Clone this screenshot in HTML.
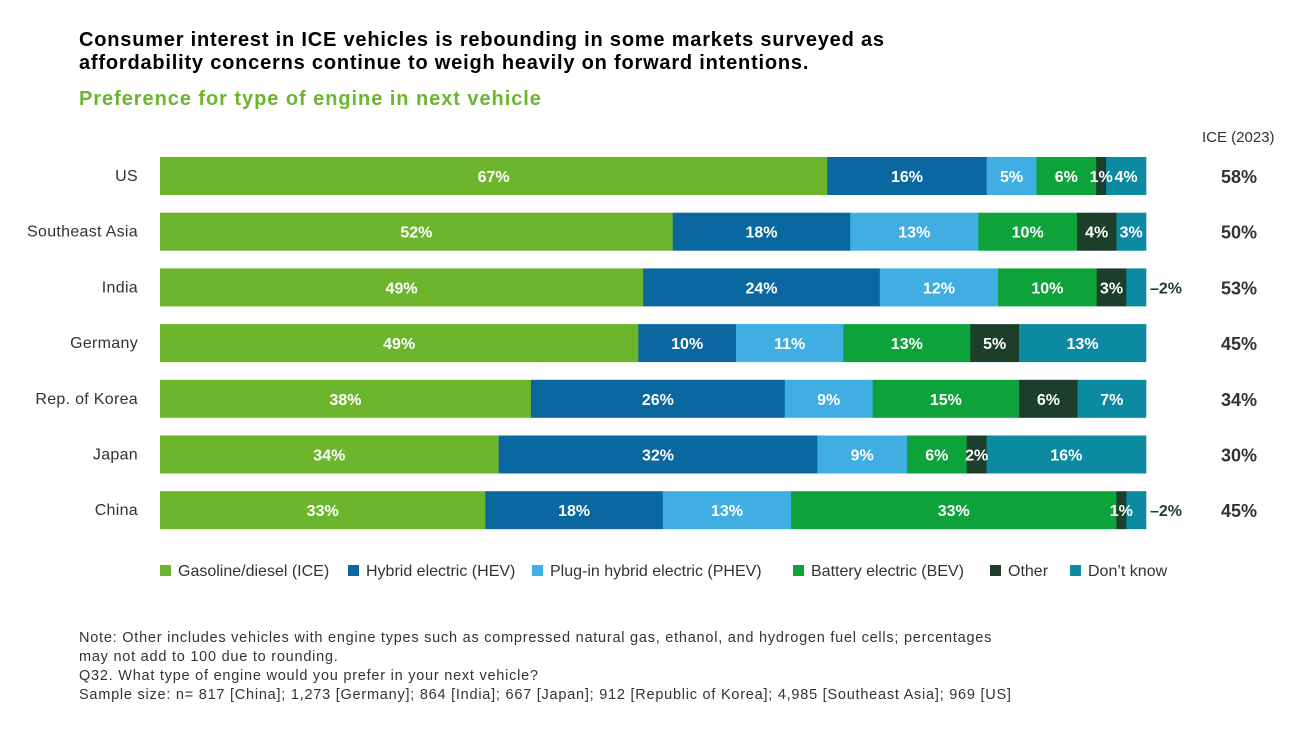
<!DOCTYPE html>
<html><head><meta charset="utf-8"><style>
body{margin:0;background:#fff;font-family:"Liberation Sans",sans-serif;}
#wrap{position:relative;width:1311px;height:739px;overflow:hidden;}
.t{position:absolute;white-space:nowrap;}
</style></head><body>
<div id="wrap">
<div class="t" style="left:79px;top:29px;font-size:20px;letter-spacing:0.8px;font-weight:bold;color:#000;line-height:23px;">Consumer interest in ICE vehicles is rebounding in some markets surveyed as<br>affordability concerns continue to weigh heavily on forward intentions.</div>
<div class="t" style="left:79px;top:88px;font-size:20px;letter-spacing:0.95px;font-weight:bold;color:#6cb52f;">Preference for type of engine in next vehicle</div>
<div class="t" style="left:1202px;top:129px;font-size:15px;color:#333;">ICE (2023)</div>
<svg id="chart" width="1311" height="739" style="position:absolute;left:0;top:0;"></svg>
<div class="t" style="left:79px;top:629px;font-size:14.5px;letter-spacing:0.76px;color:#333;line-height:19px;">Note: Other includes vehicles with engine types such as compressed natural gas, ethanol, and hydrogen fuel cells; percentages<br>may not add to 100 due to rounding.<br>Q32. What type of engine would you prefer in your next vehicle?<br>Sample size: n= 817 [China]; 1,273 [Germany]; 864 [India]; 667 [Japan]; 912 [Republic of Korea]; 4,985 [Southeast Asia]; 969 [US]</div>
</div>
<script>
const categories=["US","Southeast Asia","India","Germany","Rep. of Korea","Japan","China"];
const ice=[67,52,49,49,38,34,33];
const hev=[16,18,24,10,26,32,18];
const phev=[5,13,12,11,9,9,13];
const bev=[6,10,10,13,15,6,33];
const other=[1,4,3,5,6,2,1];
const dontKnow=[4,3,2,13,7,16,2];
const ice2023=[58,50,53,45,34,30,45];
const seriesNames=["Gasoline/diesel (ICE)","Hybrid electric (HEV)","Plug-in hybrid electric (PHEV)","Battery electric (BEV)","Other","Don\u2019t know"];
const series=[ice,hev,phev,bev,other,dontKnow];
const colors=["#6db52c","#0b67a0","#40aee2","#0ea23a","#1d3e2b","#0b8aa0"];
const svg=document.getElementById('chart');
const NS="http://www.w3.org/2000/svg";
const x0=160,x1=1146,y0=157,rowH=55.7,barH=38;
function mk(tag,attrs){const e=document.createElementNS(NS,tag);for(const k in attrs)e.setAttribute(k,attrs[k]);svg.appendChild(e);return e;}
function yPos(i){return y0+i*rowH;}
categories.forEach((c,i)=>{
  const y=yPos(i);
  const lab=mk('text',{x:138,y:y+barH/2+5,'text-anchor':'end','font-size':16,fill:'#333','font-family':'Liberation Sans','letter-spacing':0.3});
  lab.textContent=c;
  
  
  let total=0;series.forEach(s=>total+=s[i]);
  const sc=(x1-x0)/total;
  let cx=x0;
  const labels=[];
  series.forEach((s,k)=>{
    const w=s[i]*sc;
    const r=mk('rect',{x:cx,y:y,width:w+0.3,height:barH,fill:colors[k]});
    
    
    labels.push([k,cx,w,s[i]]);
    cx+=w;
  });
  labels.forEach(([k,lx,w,v])=>{
    const t=mk('text',{'font-size':16,'font-weight':'bold','font-family':'Liberation Sans'});
    t.textContent=v+'%';
    
    
    if(w<22 && k===5){
      t.setAttribute('x',x1+4);t.setAttribute('y',y+barH/2+6);t.setAttribute('fill','#1d3e2b');t.setAttribute('text-anchor','start');
      t.textContent='\u2013'+v+'%';
    } else {
      t.setAttribute('x',lx+w/2);t.setAttribute('y',y+barH/2+6);t.setAttribute('fill','#fff');t.setAttribute('text-anchor','middle');
    }
  });
  const v=mk('text',{x:1239,y:y+barH/2+7,'text-anchor':'middle','font-size':18,'font-weight':'bold',fill:'#333','font-family':'Liberation Sans'});
  v.textContent=ice2023[i]+'%';
  
  
});
const legX=[160,348,532,793,990,1070];
seriesNames.forEach((n,k)=>{
  const r=mk('rect',{x:legX[k],y:565,width:11,height:11,fill:colors[k]});
  
  
  const t=mk('text',{x:legX[k]+18,y:576,'font-size':16,fill:'#333','font-family':'Liberation Sans'});
  t.textContent=n;
  
  
});
</script>
</body></html>
